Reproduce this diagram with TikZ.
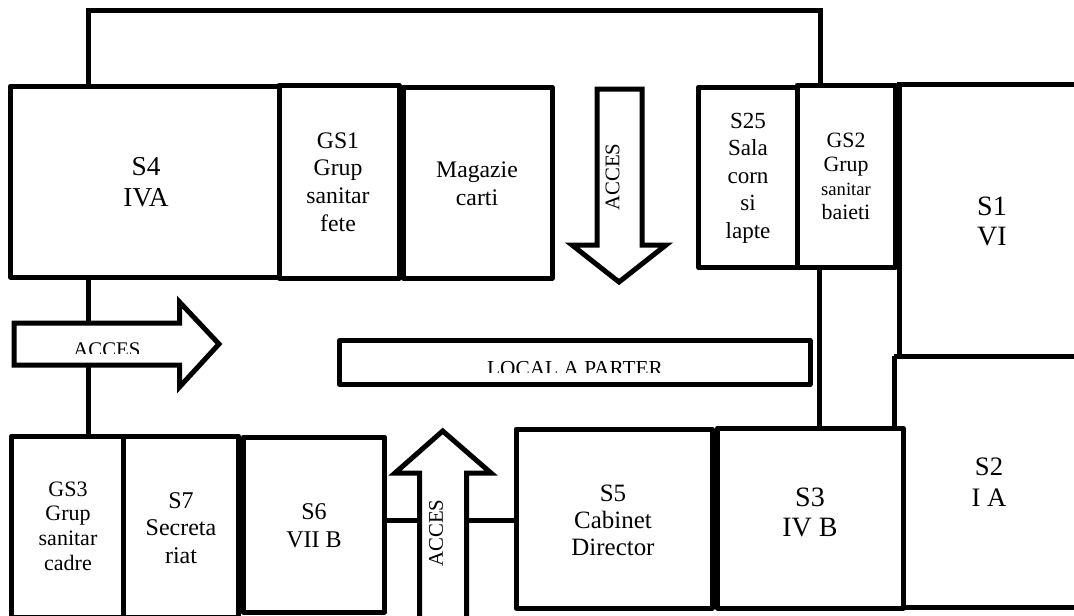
\documentclass[tikz,border=0pt]{standalone}
\usepackage{fontspec}
\setmainfont{Liberation Serif}
\newcommand{\fs}[2]{\fontsize{#1}{#2}\selectfont}
\tikzset{x=0.75pt,y=-0.75pt,
 room/.style={draw=black,line width=3.75pt,fill=white,line join=round,inner sep=0pt},
 wall/.style={draw=black,line width=3.75pt},
 lbl/.style={align=center,inner sep=0pt},
 arw/.style={draw=black,line width=3.75pt,fill=white,miter limit=10}}
\begin{document}
\begin{tikzpicture}
\useasboundingbox[fill=white] (0,0) rectangle (1074,615);
\coordinate (wt1) at (88,10); \coordinate (wt2) at (820,10);
\coordinate (s1a) at (1074,84); \coordinate (s1b) at (899.5,84); \coordinate (s1c) at (899.5,356); \coordinate (s1d) at (1074,356);
\coordinate (s2a) at (894,356); \coordinate (s2b) at (894,428);
\coordinate (s2c) at (903,607); \coordinate (s2d) at (1074,607);
\draw[wall,line join=miter] (88,86) -- (wt1) -- (wt2) -- (820,86);
\draw[wall] (88,277) -- (88,437);
\draw[wall] (819.5,267) -- (819.5,428);
\draw[wall] (s2a) -- (s2b);
\draw[wall] (385,520.5) -- (516,520.5);
\draw[wall] (s1a) -- (s1b) -- (s1c);
\draw[wall] (s2a) -- (s1d);
\draw[wall] (s2c) -- (s2d);
\path[room] (10.5,86) rectangle (279,277);
\path[room] (279,85) rectangle (399,278);
\path[room] (403,87) rectangle (552,278);
\path[room] (698.5,87) rectangle (797,267.5);
\path[room] (797,85) rectangle (895.5,267.5);
\draw[wall] (899.5,84) -- (899.5,267.5);
\path[room] (339.5,340.5) rectangle (810,384.5);
\path[room] (516,429) rectangle (712,608);
\path[room] (717.5,428) rectangle (903,608);
\path[room] (11.5,436) rectangle (123,617);
\path[room] (123,436) rectangle (238.5,617);
\path[room] (243,437) rectangle (384.5,612);
\path[arw] (597,89) -- (642,89) -- (642,245) -- (666,245) -- (619,282) -- (572,245) -- (597,245) -- cycle;
\path[arw] (14,323) -- (179.5,323) -- (179.5,302) -- (219,344) -- (179.5,387) -- (179.5,365) -- (14,365) -- cycle;
\path[arw] (419.7,620) -- (419.7,473) -- (395,473) -- (442.7,431) -- (491,473) -- (466.5,473) -- (466.5,620);
\node[lbl,font=\fs{20.5}{23}] (t4) at (146,182) {S4\\IVA};
\node[lbl,font=\fs{17.8}{20.8}] (tg1) at (338,182) {GS1\\Grup\\sanitar\\fete};
\node[lbl,font=\fs{17.8}{21}] (tm) at (477,184) {Magazie\\carti};
\node[lbl,font=\fs{17.3}{20.6}] (t25) at (748,178) {S25\\Sala\\corn\\si\\lapte};
\node[lbl,font=\fs{16.4}{18}] (tg2) at (846,176) {GS2\\Grup\\{\fs{14}{18}sanitar}\\baieti};
\node[lbl,font=\fs{21}{22.5}] (t1) at (992,221) {S1\\VI};
\node[lbl,font=\fs{20}{23}] (t2) at (989,482) {S2\\I A};
\node[lbl,font=\fs{21}{22.5}] (t3) at (810,512) {S3\\IV B};
\node[lbl,font=\fs{18.7}{20.3}] (t5) at (613,520) {S5\\Cabinet\\Director};
\node[lbl,font=\fs{18}{21}] (t6) at (314,526) {S6\\VII B};
\node[lbl,font=\fs{18}{20.6}] (t7) at (181,528) {S7\\Secreta\\riat};
\node[lbl,font=\fs{16.5}{18.5}] (tg3) at (68,526) {GS3\\Grup\\sanitar\\cadre};
\node[lbl,font=\fs{15.6}{18},rotate=90] (a1) at (612.5,177) {ACCES};
\node[lbl,font=\fs{15.6}{18},rotate=90] (a3) at (436,533) {ACCES};
\begin{scope}
\clip (60,330) rectangle (160,353.5);
\node[lbl,font=\fs{15.6}{18},anchor=base] (a2) at (107,356) {ACCES};
\end{scope}
\begin{scope}
\clip (470,350) rectangle (680,372.5);
\node[lbl,font=\fs{16}{18},anchor=base] (tl) at (575,375) {LOCAL A PARTER};
\end{scope}
\end{tikzpicture}
\end{document}
